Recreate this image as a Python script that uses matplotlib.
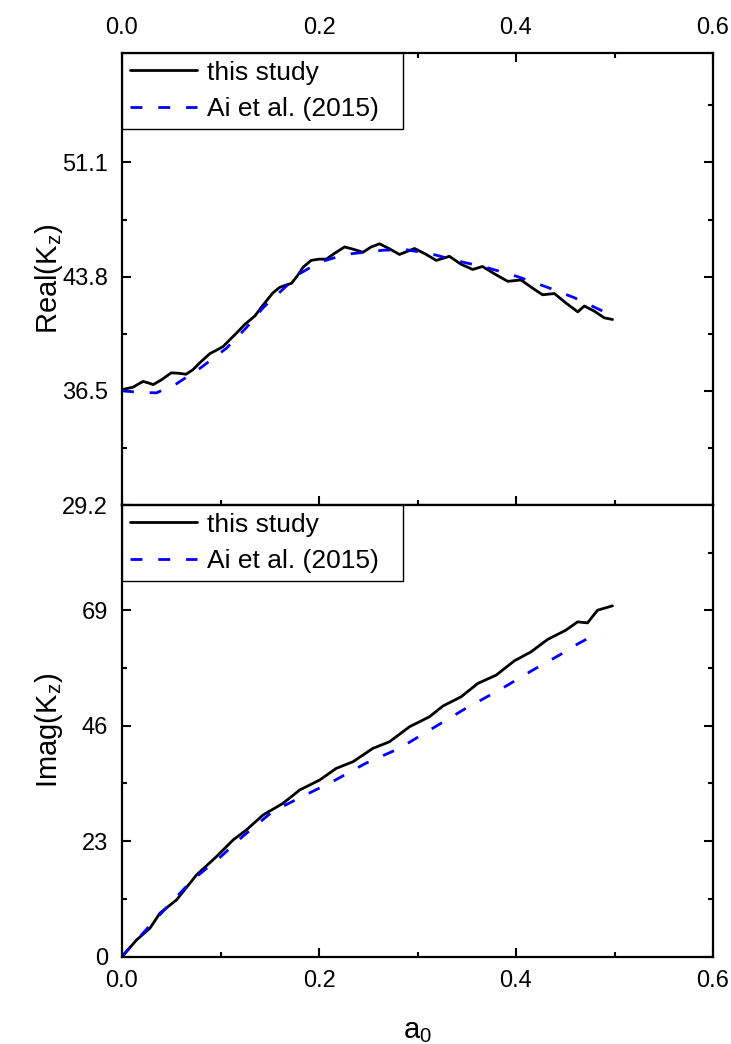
import numpy as np
import matplotlib
matplotlib.use("Agg")
import matplotlib.pyplot as plt
from matplotlib.ticker import MultipleLocator, FixedLocator

plt.rcParams['font.family'] = ['Liberation Sans', 'DejaVu Sans']
plt.rcParams['mathtext.default'] = 'regular'

# Real(Kz) - this study
a_re_study = [0.000, 0.006, 0.0115, 0.017, 0.0216, 0.027, 0.0317, 0.040, 0.050, 0.058,
              0.065, 0.072, 0.0791, 0.0892, 0.096, 0.1026, 0.110, 0.1162, 0.1246, 0.1348,
              0.141, 0.1466, 0.153, 0.160, 0.166, 0.172, 0.178, 0.184, 0.192, 0.200,
              0.2075, 0.216, 0.226, 0.235, 0.2446, 0.253, 0.2615, 0.271, 0.2817, 0.289,
              0.297, 0.308, 0.319, 0.3324, 0.344, 0.356, 0.366, 0.379, 0.3916, 0.405,
              0.416, 0.427, 0.439, 0.451, 0.4627, 0.4693, 0.4794, 0.4895, 0.498]
re_study = [36.58, 36.66, 36.74, 36.95, 37.10, 37.00, 36.90, 37.20, 37.65, 37.62,
            37.56, 37.85, 38.30, 38.88, 39.10, 39.33, 39.80, 40.19, 40.74, 41.28,
            41.80, 42.25, 42.75, 43.11, 43.25, 43.37, 43.85, 44.41, 44.84, 44.92,
            44.92, 45.30, 45.70, 45.55, 45.36, 45.70, 45.90, 45.60, 45.22, 45.40,
            45.60, 45.25, 44.84, 45.10, 44.60, 44.26, 44.45, 43.95, 43.50, 43.59,
            43.10, 42.64, 42.72, 42.10, 41.55, 41.92, 41.60, 41.17, 41.06]

# Real(Kz) - Ai et al. (2015)
a_re_ai = [0.000, 0.018, 0.035, 0.0553, 0.079, 0.106, 0.126, 0.1432, 0.160, 0.180,
           0.2007, 0.2277, 0.265, 0.288, 0.3155, 0.346, 0.371, 0.4017, 0.434, 0.459, 0.488]
re_ai = [36.50, 36.40, 36.37, 36.95, 37.93, 39.22, 40.52, 41.81, 42.79, 43.98,
         44.73, 45.23, 45.49, 45.53, 45.23, 44.73, 44.37, 43.80, 43.07, 42.46, 41.60]

# Imag(Kz) - this study
a_im_study = [0.000, 0.0149, 0.0284, 0.0385, 0.0554, 0.0757, 0.0959, 0.1128, 0.1263, 0.1432,
              0.1635, 0.1804, 0.2007, 0.2176, 0.2345, 0.2547, 0.2716, 0.2919, 0.3020, 0.3122,
              0.3257, 0.3443, 0.3612, 0.3798, 0.3983, 0.4152, 0.432, 0.4506, 0.4625, 0.4726,
              0.4828, 0.498]
im_study = [0.0, 3.32, 5.65, 8.64, 11.29, 16.27, 19.91, 23.23, 25.23, 28.21,
            30.54, 33.19, 35.18, 37.51, 38.82, 41.49, 42.81, 45.80, 46.79, 47.79,
            49.92, 51.77, 54.43, 56.08, 58.93, 60.72, 63.19, 65.05, 66.70, 66.50,
            69.03, 69.90]

# Imag(Kz) - Ai et al. (2015)
a_im_ai = [0.000, 0.0243, 0.0446, 0.0716, 0.0986, 0.1223, 0.1527, 0.1831, 0.2135, 0.2473,
           0.2777, 0.29, 0.318, 0.349, 0.383, 0.417, 0.444, 0.4635, 0.4855]
im_ai = [0.0, 5.30, 9.63, 15.27, 19.59, 23.89, 28.87, 31.90, 34.84, 38.50,
         41.15, 42.49, 45.80, 49.46, 53.10, 57.08, 60.07, 62.40, 64.71]

labels = ['this study', 'Ai et al. (2015)']
re_ticks = [29.2, 36.5, 43.8, 51.1]
im_ticks = [0, 23, 46, 69]

W, H = 731, 1044
fig = plt.figure(figsize=(W / 100, H / 100), dpi=100)
left, width = 122 / W, 591 / W
ax1 = fig.add_axes([left, (H - 505) / H, width, 452 / H])
ax2 = fig.add_axes([left, (H - 956.5) / H, width, 451.5 / H])

dash = (0, (4.3, 5.7))
kw_solid = dict(color='black', lw=2.0, solid_joinstyle='round', solid_capstyle='round')
kw_dash = dict(color='#0000ff', lw=2.0, linestyle=dash)
ax1.plot(a_re_study, re_study, label=labels[0], **kw_solid)
ax1.plot(a_re_ai, re_ai, label=labels[1], **kw_dash)
ax2.plot(a_im_study, im_study, label=labels[0], **kw_solid)
ax2.plot(a_im_ai, im_ai, label=labels[1], **kw_dash)

ax1.set_ylim(29.2, 58.1)
ax2.set_ylim(0, 90)
ax1.yaxis.set_major_locator(FixedLocator(re_ticks))
ax1.yaxis.set_minor_locator(MultipleLocator(3.65))
ax2.yaxis.set_major_locator(FixedLocator(im_ticks))
ax2.yaxis.set_minor_locator(MultipleLocator(11.5))
ax1.set_yticklabels(['%.1f' % t for t in re_ticks])
ax2.set_yticklabels(['%d' % t for t in im_ticks])

for ax in (ax1, ax2):
    ax.set_xlim(0, 0.6)
    ax.xaxis.set_major_locator(MultipleLocator(0.2))
    ax.xaxis.set_minor_locator(MultipleLocator(0.1))
    ax.xaxis.set_major_formatter(plt.FormatStrFormatter('%.1f'))
    ax.tick_params(which='both', direction='in', top=True, right=True, width=1.5,
                   labelsize=17, pad=10)
    ax.tick_params(which='major', length=6.7)
    ax.tick_params(which='minor', length=3.6)
    for s in ax.spines.values():
        s.set_linewidth(1.6)
    leg = ax.legend(loc='upper left', bbox_to_anchor=(0, 0, 281 / 591, 1), mode='expand',
                    borderaxespad=0, fontsize=19, handlelength=2.54, handletextpad=0.38,
                    labelspacing=0.47, borderpad=0.29, fancybox=False, framealpha=1)
    leg.get_frame().set_edgecolor('black')
    leg.get_frame().set_linewidth(1.0)

ax1.tick_params(axis='x', labelbottom=False, labeltop=True)
# lower panel: no ticks along the shared boundary
ax2.tick_params(axis='x', which='both', top=False)

ax1.set_ylabel('Real(K$_z$)', fontsize=21)
ax2.set_ylabel('Imag(K$_z$)', fontsize=21)
ax2.set_xlabel('a$_0$', fontsize=21, labelpad=18)
ax1.yaxis.set_label_coords(-57 / 591, 0.5)
ax2.yaxis.set_label_coords(-57 / 591, 0.5)

fig.savefig('out.png', dpi=100)
